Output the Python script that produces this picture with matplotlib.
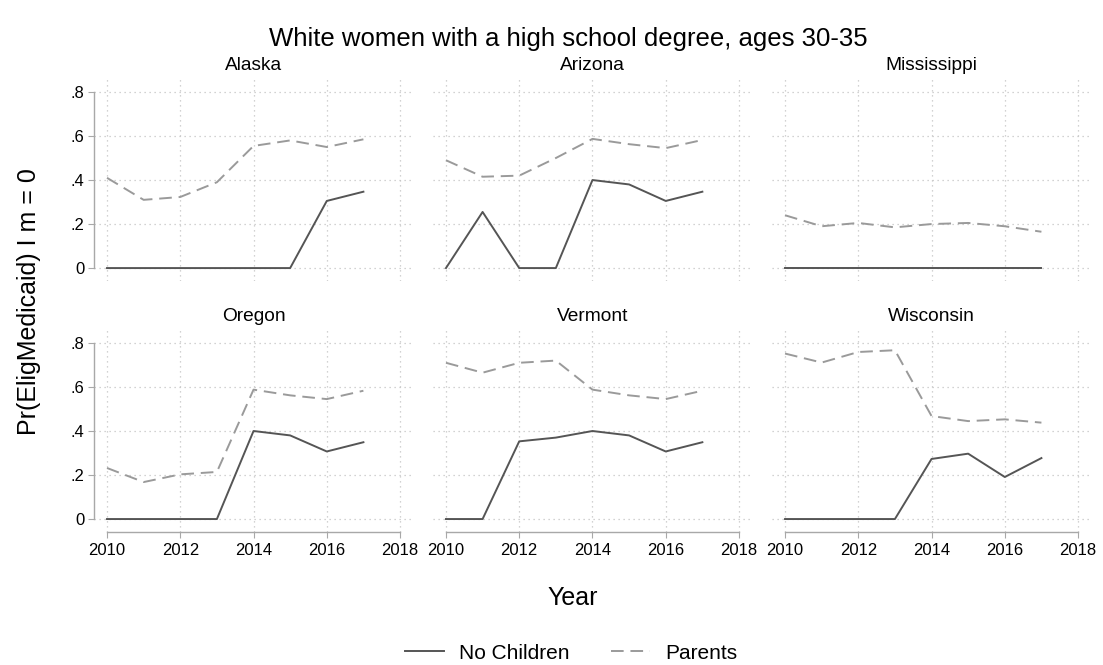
import numpy as np
import matplotlib
matplotlib.use("Agg")
import matplotlib.pyplot as plt

plt.rcParams['font.family'] = ['Liberation Sans', 'DejaVu Sans']

# -----------------------------
# DATA
# -----------------------------
years = [2010, 2011, 2012, 2013, 2014, 2015, 2016, 2017]
states = ["Alaska", "Arizona", "Mississippi", "Oregon", "Vermont", "Wisconsin"]

no_children = {
    "Alaska":      [0, 0, 0, 0, 0, 0, 0.305, 0.347],
    "Arizona":     [0, 0.255, 0, 0, 0.40, 0.38, 0.305, 0.347],
    "Mississippi": [0, 0, 0, 0, 0, 0, 0, 0],
    "Oregon":      [0, 0, 0, 0, 0.40, 0.38, 0.307, 0.349],
    "Vermont":     [0, 0, 0.353, 0.37, 0.40, 0.38, 0.307, 0.349],
    "Wisconsin":   [0, 0, 0, 0, 0.273, 0.297, 0.191, 0.277],
}
parents = {
    "Alaska":      [0.41, 0.31, 0.323, 0.39, 0.555, 0.58, 0.55, 0.585],
    "Arizona":     [0.49, 0.415, 0.42, 0.50, 0.587, 0.563, 0.545, 0.582],
    "Mississippi": [0.24, 0.19, 0.205, 0.185, 0.20, 0.205, 0.19, 0.165],
    "Oregon":      [0.232, 0.168, 0.203, 0.214, 0.588, 0.562, 0.545, 0.583],
    "Vermont":     [0.71, 0.665, 0.71, 0.72, 0.588, 0.562, 0.545, 0.583],
    "Wisconsin":   [0.752, 0.711, 0.759, 0.767, 0.468, 0.445, 0.453, 0.438],
}

yticks = [0, 0.2, 0.4, 0.6, 0.8]
ytick_labels = ["0", ".2", ".4", ".6", ".8"]
xticks = [2010, 2012, 2014, 2016, 2018]

NC_COLOR = "#555555"
PAR_COLOR = "#9a9a9a"
AXIS_COLOR = "#a8a8a8"
GRID_COLOR = "#c4c4c4"

# -----------------------------
# FIGURE
# -----------------------------
fig = plt.figure(figsize=(11.03, 6.65), dpi=100)

lefts = [0.0854, 0.3927, 0.7001]
bottoms = [0.5777, 0.2003]
w, h = 0.2889, 0.3038

for i, st in enumerate(states):
    r, c = divmod(i, 3)
    ax = fig.add_axes([lefts[c], bottoms[r], w, h])

    for s in ax.spines.values():
        s.set_visible(False)

    ax.set_xlim(2009.65, 2018.35)
    ax.set_ylim(-0.058, 0.86)

    # dotted grid
    for yv in yticks:
        ax.axhline(yv, color=GRID_COLOR, lw=0.9, ls=(0, (1, 3)), zorder=0)
    for xv in xticks:
        ax.axvline(xv, color=GRID_COLOR, lw=0.9, ls=(0, (1, 3)), zorder=0)

    ax.plot(years, no_children[st], color=NC_COLOR, lw=1.4, label="No Children")
    ax.plot(years, parents[st], color=PAR_COLOR, lw=1.4, ls=(0, (6.5, 3.5)), label="Parents")

    ax.set_title(st, fontsize=13.8, pad=6)

    if c == 0:
        ax.spines['left'].set_visible(True)
        ax.spines['left'].set_color(AXIS_COLOR)
        ax.spines['left'].set_linewidth(1.0)
        ax.spines['left'].set_bounds(0, 0.8)
        ax.set_yticks(yticks)
        ax.set_yticklabels(ytick_labels)
        ax.tick_params(axis='y', length=4, color=AXIS_COLOR, labelsize=12, pad=3)
    else:
        ax.set_yticks([])

    if r == 1:
        ax.spines['bottom'].set_visible(True)
        ax.spines['bottom'].set_color(AXIS_COLOR)
        ax.spines['bottom'].set_linewidth(1.0)
        ax.spines['bottom'].set_bounds(2010, 2018)
        ax.set_xticks(xticks)
        ax.tick_params(axis='x', length=4, color=AXIS_COLOR, labelsize=12, pad=4)
    else:
        ax.set_xticks([])

    if i == 0:
        handles, labels = ax.get_legend_handles_labels()

fig.text(0.515, 0.942, "White women with a high school degree, ages 30-35",
         ha="center", va="center", fontsize=18.5)
fig.text(0.519, 0.101, "Year", ha="center", va="center", fontsize=18)
fig.text(0.026, 0.546, "Pr(EligMedicaid) I m = 0", ha="center", va="center",
         rotation=90, fontsize=18)

fig.legend(handles, labels, loc="center", bbox_to_anchor=(0.518, 0.018), ncol=2,
           frameon=False, fontsize=15, handlelength=1.85, columnspacing=2.0,
           handletextpad=0.75)

fig.savefig("out.png", dpi=100)
